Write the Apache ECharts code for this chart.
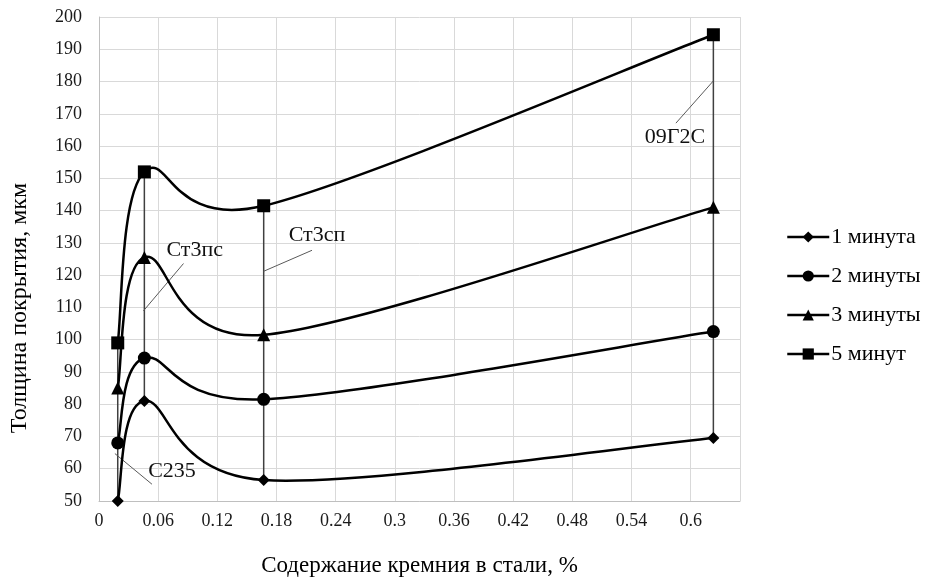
<!DOCTYPE html>
<html>
<head>
<meta charset="utf-8">
<script src="https://cdn.jsdelivr.net/npm/echarts@6/dist/echarts.min.js"></script>
<style>html,body{margin:0;padding:0;background:#fff}#c{width:935px;height:583px}</style>
</head>
<body>
<div id="c"></div>
<script>
// Silicon content (x) for the four steels
const siContent = [0.019, 0.046, 0.167, 0.623];
// Coating thickness, µm
const min1 = [50, 81, 56.5, 69.5];
const min2 = [68, 94.3, 81.5, 102.5];
const min3 = [85, 125.5, 101.5, 141];
const min5 = [99, 152, 141.5, 194.5];
const seriesNames = ['1 минута', '2 минуты', '3 минуты', '5 минут'];
const seriesSymbols = ['diamond', 'circle', 'triangle', 'rect'];
const seriesData = [min1, min2, min3, min5];
// Steel grade annotations: leader start, leader end, text position (data units)
const gradeNames = ['С235', 'Ст3пс', 'Ст3сп', '09Г2С'];
const leaderFrom = [[0.0161, 64.7], [0.045, 108.9], [0.167, 121.2], [0.623, 180.2]];
const leaderTo = [[0.0537, 55.2], [0.0857, 123.6], [0.216, 127.7], [0.585, 167.1]];
const textAt = [[0.074, 59.2], [0.097, 127.7], [0.221, 132.3], [0.584, 162.7]];

const FONT = 'Liberation Serif';
const chart = echarts.init(document.getElementById('c'));
const series = [];

// drop lines at each steel
siContent.forEach((x, i) => {
  const vals = seriesData.map(s => s[i]);
  series.push({
    type: 'line', silent: true, symbol: 'none', z: 1,
    data: [[x, Math.min(...vals)], [x, Math.max(...vals)]],
    lineStyle: { color: '#404040', width: 1.5 }
  });
});
// leader lines
leaderFrom.forEach((p, i) => {
  series.push({
    type: 'line', silent: true, symbol: 'none', z: 1,
    data: [p, leaderTo[i]],
    lineStyle: { color: '#595959', width: 1 }
  });
});
// annotation texts
series.push({
  type: 'scatter', symbolSize: 0, silent: true, z: 4,
  itemStyle: { opacity: 1 },
  data: textAt.map((p, i) => ({ value: p, name: gradeNames[i] })),
  label: { show: true, position: 'inside', formatter: '{b}', fontFamily: FONT, fontSize: 22, color: '#111', opacity: 1 }
});
// smoothed curves (Catmull-Rom style bezier, like spreadsheet smoothing)
seriesData.forEach((vals) => {
  const n = siContent.length;
  series.push({
    type: 'custom', silent: true, z: 2,
    data: siContent.slice(0, -1).map((x, i) => [x, vals[i]]),
    renderItem: (params, api) => {
      const i = params.dataIndex;
      const P = k => {
        const j = Math.max(0, Math.min(n - 1, k));
        return api.coord([siContent[j], vals[j]]);
      };
      const p0 = P(i - 1), p1 = P(i), p2 = P(i + 1), p3 = P(i + 2);
      return {
        type: 'bezierCurve',
        shape: {
          x1: p1[0], y1: p1[1], x2: p2[0], y2: p2[1],
          cpx1: p1[0] + (p2[0] - p0[0]) / 6, cpy1: p1[1] + (p2[1] - p0[1]) / 6,
          cpx2: p2[0] - (p3[0] - p1[0]) / 6, cpy2: p2[1] - (p3[1] - p1[1]) / 6
        },
        style: { stroke: '#000', lineWidth: 2.5, fill: 'none' }
      };
    }
  });
});
// markers (and legend entries)
seriesData.forEach((d, i) => {
  series.push({
    name: seriesNames[i], type: 'line', z: 3,
    data: siContent.map((x, j) => [x, d[j]]),
    symbol: seriesSymbols[i],
    symbolSize: seriesSymbols[i] === 'diamond' ? 12 : 13,
    itemStyle: { color: '#000' },
    lineStyle: { color: '#000', width: 2.5, opacity: 0 }
  });
});

chart.setOption({
  animation: false,
  grid: { left: 96, top: 17, right: 195, bottom: 82 },
  legend: {
    data: seriesNames, orient: 'vertical', left: 786, top: 226, padding: 0,
    itemWidth: 42, itemHeight: 14, itemGap: 17,
    lineStyle: { color: '#000', width: 2.5, opacity: 1 },
    textStyle: { fontFamily: FONT, fontSize: 22, color: '#000', padding: [0, 0, 0, -3] }
  },
  xAxis: {
    type: 'value', min: 0, max: 0.65, interval: 0.06,
    name: 'Содержание кремния в стали, %', nameLocation: 'middle', nameGap: 53,
    nameTextStyle: { fontFamily: FONT, fontSize: 23, color: '#000' },
    axisLine: { show: true, lineStyle: { color: '#bfbfbf' } },
    axisTick: { show: false },
    axisLabel: { fontFamily: FONT, fontSize: 18, color: '#1a1a1a', margin: 11, showMaxLabel: false },
    splitLine: { show: true, lineStyle: { color: '#d9d9d9' } }
  },
  yAxis: {
    type: 'value', min: 50, max: 200, interval: 10,
    name: 'Толщина покрытия, мкм', nameLocation: 'middle', nameGap: 67,
    nameTextStyle: { fontFamily: FONT, fontSize: 24, color: '#000', padding: [0, 98, 0, 0] },
    axisLine: { show: true, lineStyle: { color: '#bfbfbf' } },
    axisTick: { show: false },
    axisLabel: { fontFamily: FONT, fontSize: 18, color: '#1a1a1a', margin: 17 },
    splitLine: { show: true, lineStyle: { color: '#d9d9d9' } }
  },
  series: series
});
</script>
</body>
</html>
